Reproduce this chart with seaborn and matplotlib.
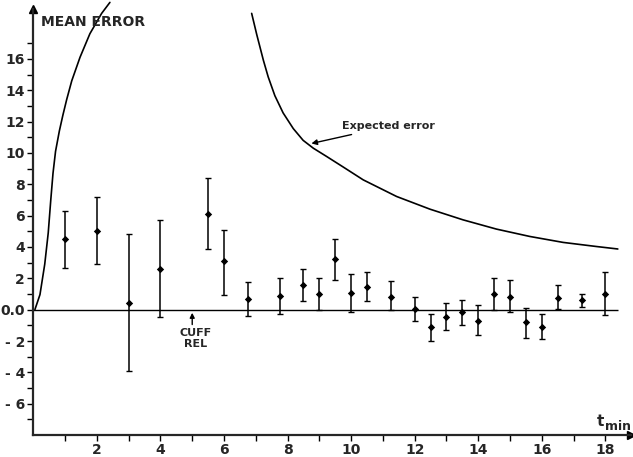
import numpy as np
import pandas as pd
import matplotlib
matplotlib.use("Agg")
import matplotlib.pyplot as plt
import seaborn as sns

# ---- data ----
t = [1, 2, 3, 4, 5.5, 6, 6.75, 7.75, 8.5, 9, 9.5, 10, 10.5, 11.25, 12, 12.5,
     13, 13.5, 14, 14.5, 15, 15.5, 16, 16.5, 17.25, 18]
mean_err = [4.5, 5.0, 0.45, 2.6, 6.1, 3.1, 0.7, 0.85, 1.57, 0.97, 3.25, 1.04,
            1.42, 0.81, 0.04, -1.13, -0.45, -0.17, -0.7, 1.02, 0.83, -0.8,
            -1.13, 0.74, 0.6, 1.0]
err_hi = [6.3, 7.2, 4.8, 5.7, 8.4, 5.1, 1.75, 2.0, 2.6, 2.04, 4.5, 2.25, 2.4,
          1.85, 0.8, -0.28, 0.42, 0.6, 0.28, 2.02, 1.87, 0.1, -0.25, 1.55,
          1.02, 2.38]
err_lo = [2.65, 2.9, -3.9, -0.5, 3.9, 0.95, -0.4, -0.3, 0.57, -0.05, 1.87,
          -0.15, 0.53, -0.05, -0.72, -2.0, -1.27, -0.98, -1.6, 0.0, -0.15,
          -1.8, -1.9, 0.05, 0.15, -0.36]

rise_t = [0.05, 0.21, 0.36, 0.47, 0.55, 0.62, 0.70, 0.82, 0.93, 1.05, 1.21,
          1.47, 1.78, 2.15, 2.41]
rise_v = [0.0, 0.96, 2.9, 4.9, 7.0, 8.7, 10.1, 11.4, 12.4, 13.4, 14.6,
          16.1, 17.6, 18.9, 19.6]

exp_t = [6.87, 7.03, 7.24, 7.39, 7.60, 7.86, 8.18, 8.49, 8.81, 9.23, 9.75,
         10.38, 11.43, 12.48, 13.52, 14.57, 15.62, 16.67, 17.71, 18.39]
exp_v = [18.9, 17.55, 15.9, 14.85, 13.65, 12.55, 11.55, 10.8, 10.3, 9.77, 9.1,
         8.28, 7.22, 6.41, 5.73, 5.14, 4.67, 4.29, 4.03, 3.87]

y_ticks = [16, 14, 12, 10, 8, 6, 4, 2, 0, -2, -4, -6]
y_labels = ["16", "14", "12", "10", "8", "6", "4", "2", "0.0", "- 2", "- 4", "- 6"]
x_ticks = [2, 4, 6, 8, 10, 12, 14, 16, 18]
x_labels = ["2", "4", "6", "8", "10", "12", "14", "16", "18"]

df = pd.DataFrame({"t": t, "mean": mean_err, "lo": err_lo, "hi": err_hi})

sns.set_style("ticks")
plt.rcParams["font.family"] = ["DejaVu Sans"]

fig = plt.figure(figsize=(6.33, 4.57), dpi=100)
ax = fig.add_axes([0.0526, 0.048, 0.944, 0.933])
ax.set_xlim(0, 18.8)
ax.set_ylim(-8, 19.2)

ink = "black"
lw = 1.2

# zero line
ax.hlines(0, 0, 18.4, color=ink, lw=1.0, zorder=1)

# error bars + points
ax.errorbar(df["t"], df["mean"],
            yerr=[df["mean"] - df["lo"], df["hi"] - df["mean"]],
            fmt="none", ecolor=ink, elinewidth=1.1, capsize=2.2, capthick=1.0,
            zorder=3)
sns.scatterplot(data=df, x="t", y="mean", ax=ax, color=ink, marker="D", s=14,
                edgecolor=ink, linewidth=0, zorder=4, legend=False)

# curves
sns.lineplot(x=rise_t, y=rise_v, ax=ax, color=ink, lw=lw, sort=False,
             estimator=None, zorder=2)
sns.lineplot(x=exp_t, y=exp_v, ax=ax, color=ink, lw=lw, sort=False,
             estimator=None, zorder=2)
for ln in ax.get_lines():
    ln.set_clip_on(False)
    ln.set_solid_joinstyle("round")

# spines / axes
sns.despine(ax=ax)
ax.spines["left"].set_linewidth(1.6)
ax.spines["bottom"].set_linewidth(1.6)
ax.plot(0, 1, marker="^", color=ink, markersize=6, transform=ax.transAxes,
        clip_on=False)
ax.plot(1, 0, marker=">", color=ink, markersize=6, transform=ax.transAxes,
        clip_on=False)

ax.set_yticks(y_ticks)
ax.set_yticklabels(y_labels, fontsize=10, fontweight="bold")
ax.set_yticks(np.arange(-7, 19, 2), minor=True)
ax.set_xticks(x_ticks)
ax.set_xticklabels(x_labels, fontsize=10, fontweight="bold")
ax.set_xticks(np.arange(1, 19, 2), minor=True)
ax.tick_params(axis="both", which="both", direction="out", width=1.0,
               color=ink, pad=2)
ax.tick_params(axis="both", which="major", length=4)
ax.tick_params(axis="both", which="minor", length=4)
ax.set_xlabel("")
ax.set_ylabel("")

# texts
ax.text(0.25, 18.35, "MEAN ERROR", fontsize=10, fontweight="bold",
        va="center", ha="left")
ax.text(17.72, -7.45, "t", fontsize=11, fontweight="bold", ha="left",
        va="baseline")
ax.text(18.0, -7.7, "min", fontsize=9, fontweight="bold", ha="left",
        va="baseline")
ax.annotate("Expected error", xy=(8.75, 10.6), xytext=(9.72, 11.7),
            fontsize=8, fontweight="bold", va="center", ha="left",
            arrowprops=dict(arrowstyle="-|>", color=ink, lw=1.0,
                            mutation_scale=8, shrinkA=0, shrinkB=0))
ax.annotate("", xy=(5.0, -0.2), xytext=(5.0, -0.95),
            arrowprops=dict(arrowstyle="-|>", color=ink, lw=1.0,
                            mutation_scale=7, shrinkA=0, shrinkB=0))
ax.text(5.1, -1.2, "CUFF\nREL", fontsize=8, fontweight="bold",
        ha="center", va="top", linespacing=1.05)

fig.savefig("out.png", dpi=100)
